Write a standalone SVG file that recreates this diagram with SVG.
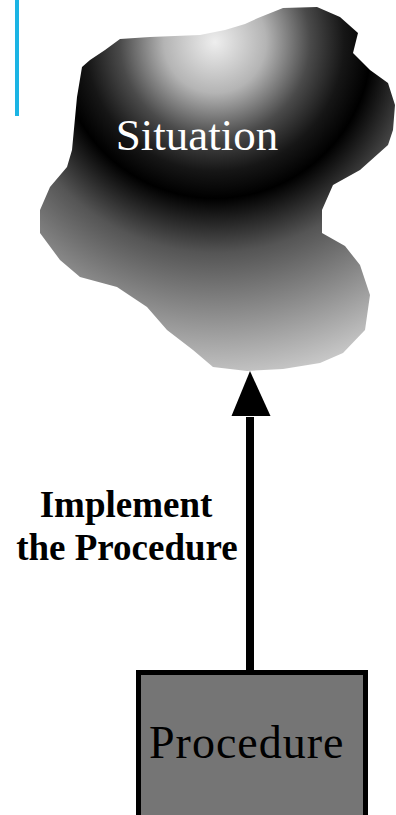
<svg xmlns="http://www.w3.org/2000/svg" width="396" height="815" viewBox="0 0 396 815">
  <style>
    .serif { font-family: "Liberation Serif", "Times New Roman", serif; }
    .label { font-weight: bold; font-size: 37px; fill: #000; text-anchor: middle; }
  </style>
  <defs>
    <radialGradient id="blobGrad" gradientUnits="userSpaceOnUse" cx="215" cy="42" r="340">
      <stop offset="0" stop-color="#eeeeee"/>
      <stop offset="0.15" stop-color="#b4b4b4"/>
      <stop offset="0.28" stop-color="#4a4a4a"/>
      <stop offset="0.38" stop-color="#161616"/>
      <stop offset="0.46" stop-color="#000000"/>
      <stop offset="0.5" stop-color="#151515"/>
      <stop offset="0.62" stop-color="#555555"/>
      <stop offset="0.8" stop-color="#8c8c8c"/>
      <stop offset="1" stop-color="#cacaca"/>
    </radialGradient>
  </defs>

  <line x1="17" y1="0" x2="17" y2="116" stroke="#1bb4e4" stroke-width="4"/>

  <g id="connectors">
    <line x1="250" y1="670" x2="250" y2="417" stroke="#000" stroke-width="8"/>
    <polygon points="250,371 270.5,416 231.5,416" fill="#000"/>
  </g>

  <g id="situation">
    <polygon fill="url(#blobGrad)" points="82,67 90,60 105,50 120,39 150,37 200,35 225,30 245,24 258,18 283,8 317,7 340,17 358,33 353,53 370,70 388,83 395,105 393,130 388,145 360,170 333,185 322,210 322,233 345,246 360,265 370,295 365,330 343,353 320,363 283,369 247,371 213,367 193,350 167,330 147,307 117,287 80,277 60,260 40,233 40,210 50,187 67,167 72,150 77,97"/>
    <text class="serif" x="197" y="150" font-size="45" fill="#fff" text-anchor="middle">Situation</text>
  </g>

  <g id="label">
    <text class="serif label" x="126" y="517">Implement</text>
    <text class="serif label" x="127" y="560">the Procedure</text>
  </g>

  <g id="procedure">
    <rect x="138.5" y="672.5" width="227" height="160" fill="#757575" stroke="#000" stroke-width="5"/>
    <text class="serif" x="149" y="758" font-size="46" fill="#000" letter-spacing="1">Procedure</text>
  </g>
</svg>
